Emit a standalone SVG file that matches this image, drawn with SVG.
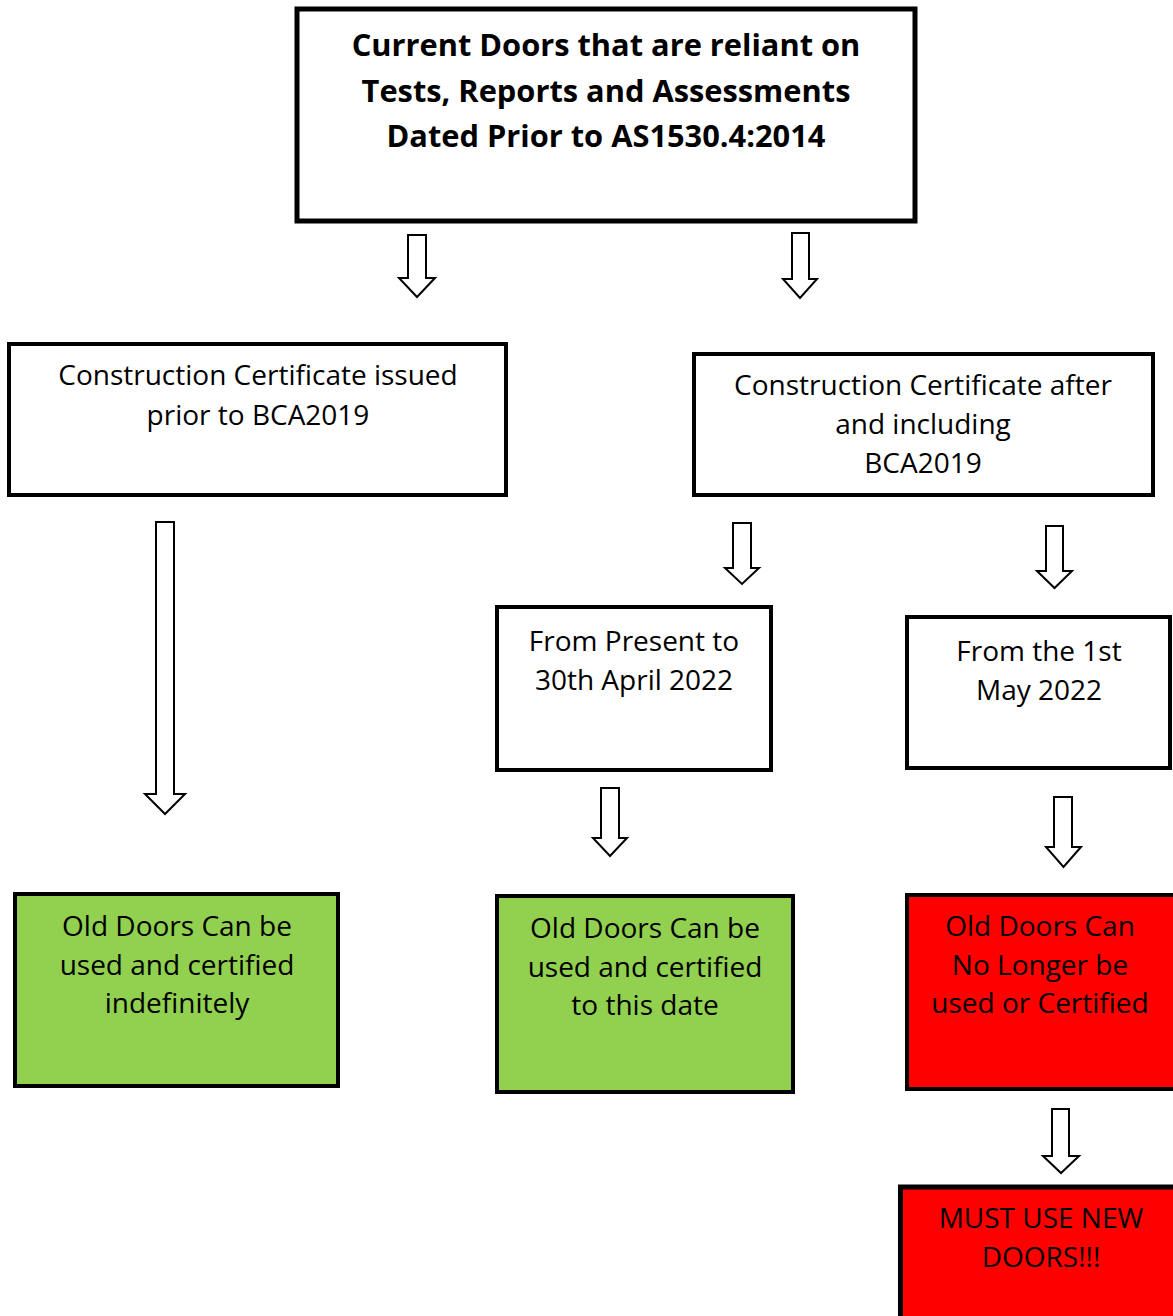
<svg xmlns="http://www.w3.org/2000/svg" width="1173" height="1316" viewBox="0 0 1173 1316">
<style>
.box{stroke:#000;stroke-width:4;fill:#fff}
.green{fill:#92D050}
.red{fill:#FF0000}
.t{font-family:"Open Sans","Noto Sans","Liberation Sans",sans-serif;font-size:28px;fill:#000;text-anchor:middle}
.b{font-weight:bold;font-size:30.8px}
.arrow{fill:#fff;stroke:#000;stroke-width:2;stroke-linejoin:miter}
</style>
<rect width="1173" height="1316" fill="#fff"/>
<g id="connectors">
<polygon class="arrow" points="408,235 426,235 426,278 435,278 417,297 399,278 408,278"/>
<polygon class="arrow" points="792,233 809,233 809,279 817,279 800,298 783,279 792,279"/>
<polygon class="arrow" points="156,522 174,522 174,794 185,794 165,814 145,794 156,794"/>
<polygon class="arrow" points="733,523 751,523 751,568 759,568 742,584 725,568 733,568"/>
<polygon class="arrow" points="1046,526 1063,526 1063,571 1072,571 1054.5,588 1037,571 1046,571"/>
<polygon class="arrow" points="601,788 619,788 619,838 627,838 610,856 593,838 601,838"/>
<polygon class="arrow" points="1054,797 1072,797 1072,847 1081,847 1063.5,867 1046,847 1054,847"/>
<polygon class="arrow" points="1052,1109 1069,1109 1069,1156 1079,1156 1061,1173 1043,1156 1052,1156"/>
</g>
<g id="n-top">
<rect class="box" x="297" y="9" width="618" height="212" style="stroke-width:5"/>
<text class="t b" x="606" y="56">Current Doors that are reliant on</text>
<text class="t b" x="606" y="102">Tests, Reports and Assessments</text>
<text class="t b" x="606" y="147">Dated Prior to AS1530.4:2014</text>
</g>
<g id="n-prior">
<rect class="box" x="9" y="344" width="497" height="151"/>
<text class="t" x="258" y="385">Construction Certificate issued</text>
<text class="t" x="258" y="425">prior to BCA2019</text>
</g>
<g id="n-after">
<rect class="box" x="694" y="354" width="459" height="141"/>
<text class="t" x="923" y="395">Construction Certificate after</text>
<text class="t" x="923" y="434">and including</text>
<text class="t" x="923" y="473">BCA2019</text>
</g>
<g id="n-present">
<rect class="box" x="497" y="607" width="274" height="163"/>
<text class="t" x="634" y="651">From Present to</text>
<text class="t" x="634" y="690">30th April 2022</text>
</g>
<g id="n-may">
<rect class="box" x="907" y="617" width="263" height="151"/>
<text class="t" x="1039" y="661">From the 1st</text>
<text class="t" x="1039" y="700">May 2022</text>
</g>
<g id="n-indef">
<rect class="box green" x="15" y="894" width="323" height="192"/>
<text class="t" x="177" y="936">Old Doors Can be</text>
<text class="t" x="177" y="975">used and certified</text>
<text class="t" x="177" y="1013">indefinitely</text>
</g>
<g id="n-thisdate">
<rect class="box green" x="497" y="896" width="296" height="196"/>
<text class="t" x="645" y="938">Old Doors Can be</text>
<text class="t" x="645" y="977">used and certified</text>
<text class="t" x="645" y="1015">to this date</text>
</g>
<g id="n-nolonger">
<rect class="box red" x="907" y="895" width="290" height="194"/>
<text class="t" x="1040" y="936">Old Doors Can</text>
<text class="t" x="1040" y="975">No Longer be</text>
<text class="t" x="1040" y="1013">used or Certified</text>
</g>
<g id="n-new">
<rect class="box red" x="900.5" y="1187" width="300" height="200" style="stroke-width:5"/>
<text class="t" x="1041" y="1228">MUST USE NEW</text>
<text class="t" x="1041" y="1267">DOORS!!!</text>
</g>
</svg>
